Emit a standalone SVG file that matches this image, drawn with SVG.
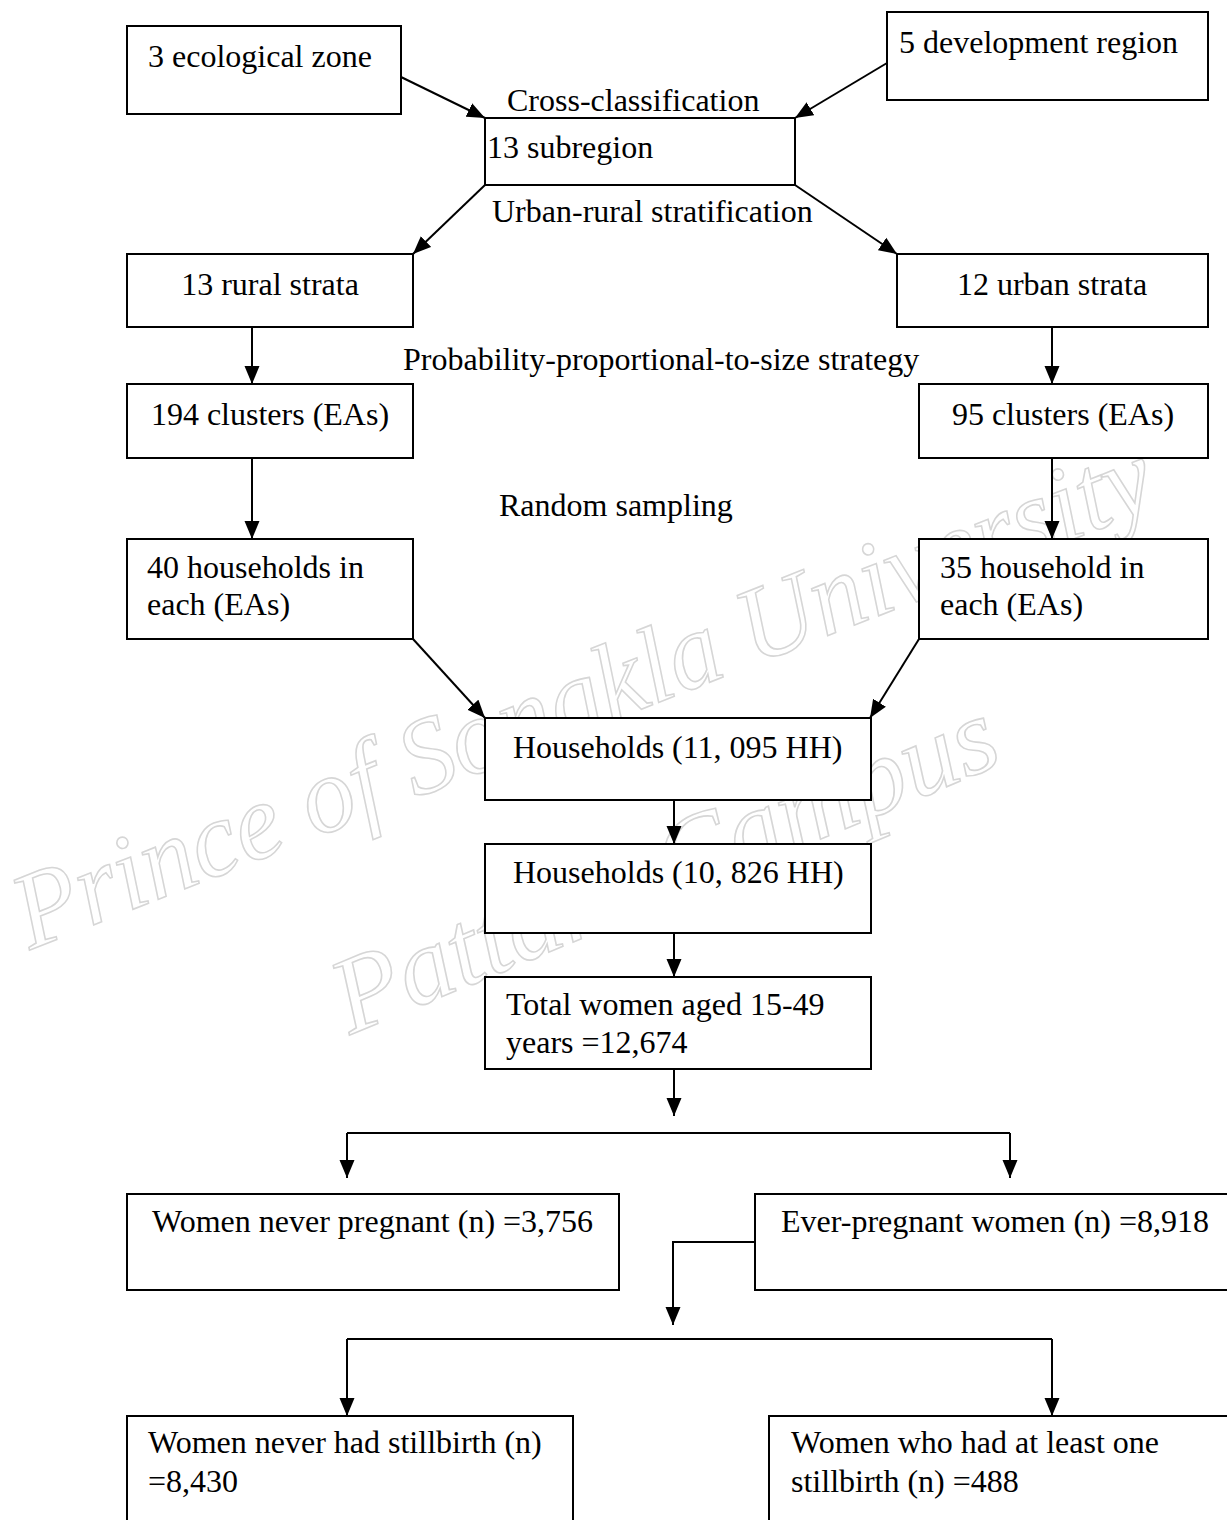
<svg xmlns="http://www.w3.org/2000/svg" width="1227" height="1520" viewBox="0 0 1227 1520">
<style>
.bg{fill:#ffffff}
.box{fill:#ffffff;stroke:#000000;stroke-width:2}
.t{font-family:"Liberation Serif","Times New Roman",serif;font-size:32px;fill:#000000}
.c{text-anchor:middle}
.wm{font-family:"Liberation Serif","DejaVu Serif",serif;font-style:italic;font-size:108px;fill:#ffffff;stroke:#d6d6d6;stroke-width:1.6}
.ln{fill:none;stroke:#000000;stroke-width:2}
.ar{fill:none;stroke:#000000;stroke-width:2;marker-end:url(#ah)}
</style>
<defs>
<marker id="ah" markerWidth="18" markerHeight="16" refX="18" refY="8" orient="auto" markerUnits="userSpaceOnUse">
<path d="M0,0.5 L18,8 L0,15.5 z" fill="#000000"/>
</marker>
</defs>
<rect class="bg" x="0" y="0" width="1227" height="1520"/>
<g id="watermark">
<text class="wm" transform="translate(30,950) rotate(-21.5)" textLength="1215" lengthAdjust="spacingAndGlyphs">Prince of Songkla University</text>
<text class="wm" transform="translate(350,1035) rotate(-22.6)" textLength="710" lengthAdjust="spacingAndGlyphs">Pattani Campus</text>
</g>
<g id="connectors">
<path class="ar" d="M401,77 L485,118"/>
<path class="ar" d="M887,63 L795,118"/>
<path class="ar" d="M485,185 L413,254"/>
<path class="ar" d="M795,185 L897,254"/>
<path class="ar" d="M252,327 L252,384"/>
<path class="ar" d="M1052,327 L1052,384"/>
<path class="ar" d="M252,458 L252,539"/>
<path class="ar" d="M1052,458 L1052,539"/>
<path class="ar" d="M413,639 L485,718"/>
<path class="ar" d="M919,639 L870,718"/>
<path class="ar" d="M674,800 L674,844"/>
<path class="ar" d="M674,933 L674,977"/>
<path class="ar" d="M674,1069 L674,1116"/>
<path class="ln" d="M347,1133 L1010,1133"/>
<path class="ar" d="M347,1133 L347,1178"/>
<path class="ar" d="M1010,1133 L1010,1178"/>
<path class="ar" d="M755,1242 L673,1242 L673,1325"/>
<path class="ln" d="M347,1339 L1052,1339"/>
<path class="ar" d="M347,1339 L347,1416"/>
<path class="ar" d="M1052,1339 L1052,1416"/>
</g>
<g id="labels">
<text class="t" x="507" y="111">Cross-classification</text>
<text class="t" x="492" y="222">Urban-rural stratification</text>
<text class="t" x="403" y="370">Probability-proportional-to-size strategy</text>
<text class="t" x="499" y="516">Random sampling</text>
</g>
<g id="n-eco"><rect class="box" x="127" y="26" width="274" height="88"/><text class="t" x="148" y="67">3 ecological zone</text></g>
<g id="n-dev"><rect class="box" x="887" y="12" width="321" height="88"/><text class="t" x="899" y="53">5 development region</text></g>
<g id="n-sub"><rect class="box" x="485" y="118" width="310" height="67"/><text class="t" x="487" y="158">13 subregion</text></g>
<g id="n-rural"><rect class="box" x="127" y="254" width="286" height="73"/><text class="t c" x="270" y="295">13 rural strata</text></g>
<g id="n-urban"><rect class="box" x="897" y="254" width="311" height="73"/><text class="t c" x="1052" y="295">12 urban strata</text></g>
<g id="n-c194"><rect class="box" x="127" y="384" width="286" height="74"/><text class="t c" x="270" y="425">194 clusters (EAs)</text></g>
<g id="n-c95"><rect class="box" x="919" y="384" width="289" height="74"/><text class="t c" x="1063" y="425">95 clusters (EAs)</text></g>
<g id="n-h40"><rect class="box" x="127" y="539" width="286" height="100"/><text class="t" x="147" y="578">40 households in</text><text class="t" x="147" y="615">each (EAs)</text></g>
<g id="n-h35"><rect class="box" x="919" y="539" width="289" height="100"/><text class="t" x="940" y="578">35 household in</text><text class="t" x="940" y="615">each (EAs)</text></g>
<g id="n-hh11"><rect class="box" x="485" y="718" width="386" height="82"/><text class="t" x="513" y="758">Households (11, 095 HH)</text></g>
<g id="n-hh10"><rect class="box" x="485" y="844" width="386" height="89"/><text class="t" x="513" y="883">Households (10, 826 HH)</text></g>
<g id="n-women"><rect class="box" x="485" y="977" width="386" height="92"/><text class="t" x="506" y="1015">Total women aged 15-49</text><text class="t" x="506" y="1053">years =12,674</text></g>
<g id="n-never"><rect class="box" x="127" y="1194" width="492" height="96"/><text class="t" x="152" y="1232">Women never pregnant (n) =3,756</text></g>
<g id="n-ever"><rect class="box" x="755" y="1194" width="490" height="96"/><text class="t" x="781" y="1232">Ever-pregnant women (n) =8,918</text></g>
<g id="n-nostill"><rect class="box" x="127" y="1416" width="446" height="130"/><text class="t" x="148" y="1453">Women never had stillbirth (n)</text><text class="t" x="148" y="1492">=8,430</text></g>
<g id="n-still"><rect class="box" x="769" y="1416" width="480" height="130"/><text class="t" x="791" y="1453">Women who had at least one</text><text class="t" x="791" y="1492">stillbirth (n) =488</text></g>
</svg>
